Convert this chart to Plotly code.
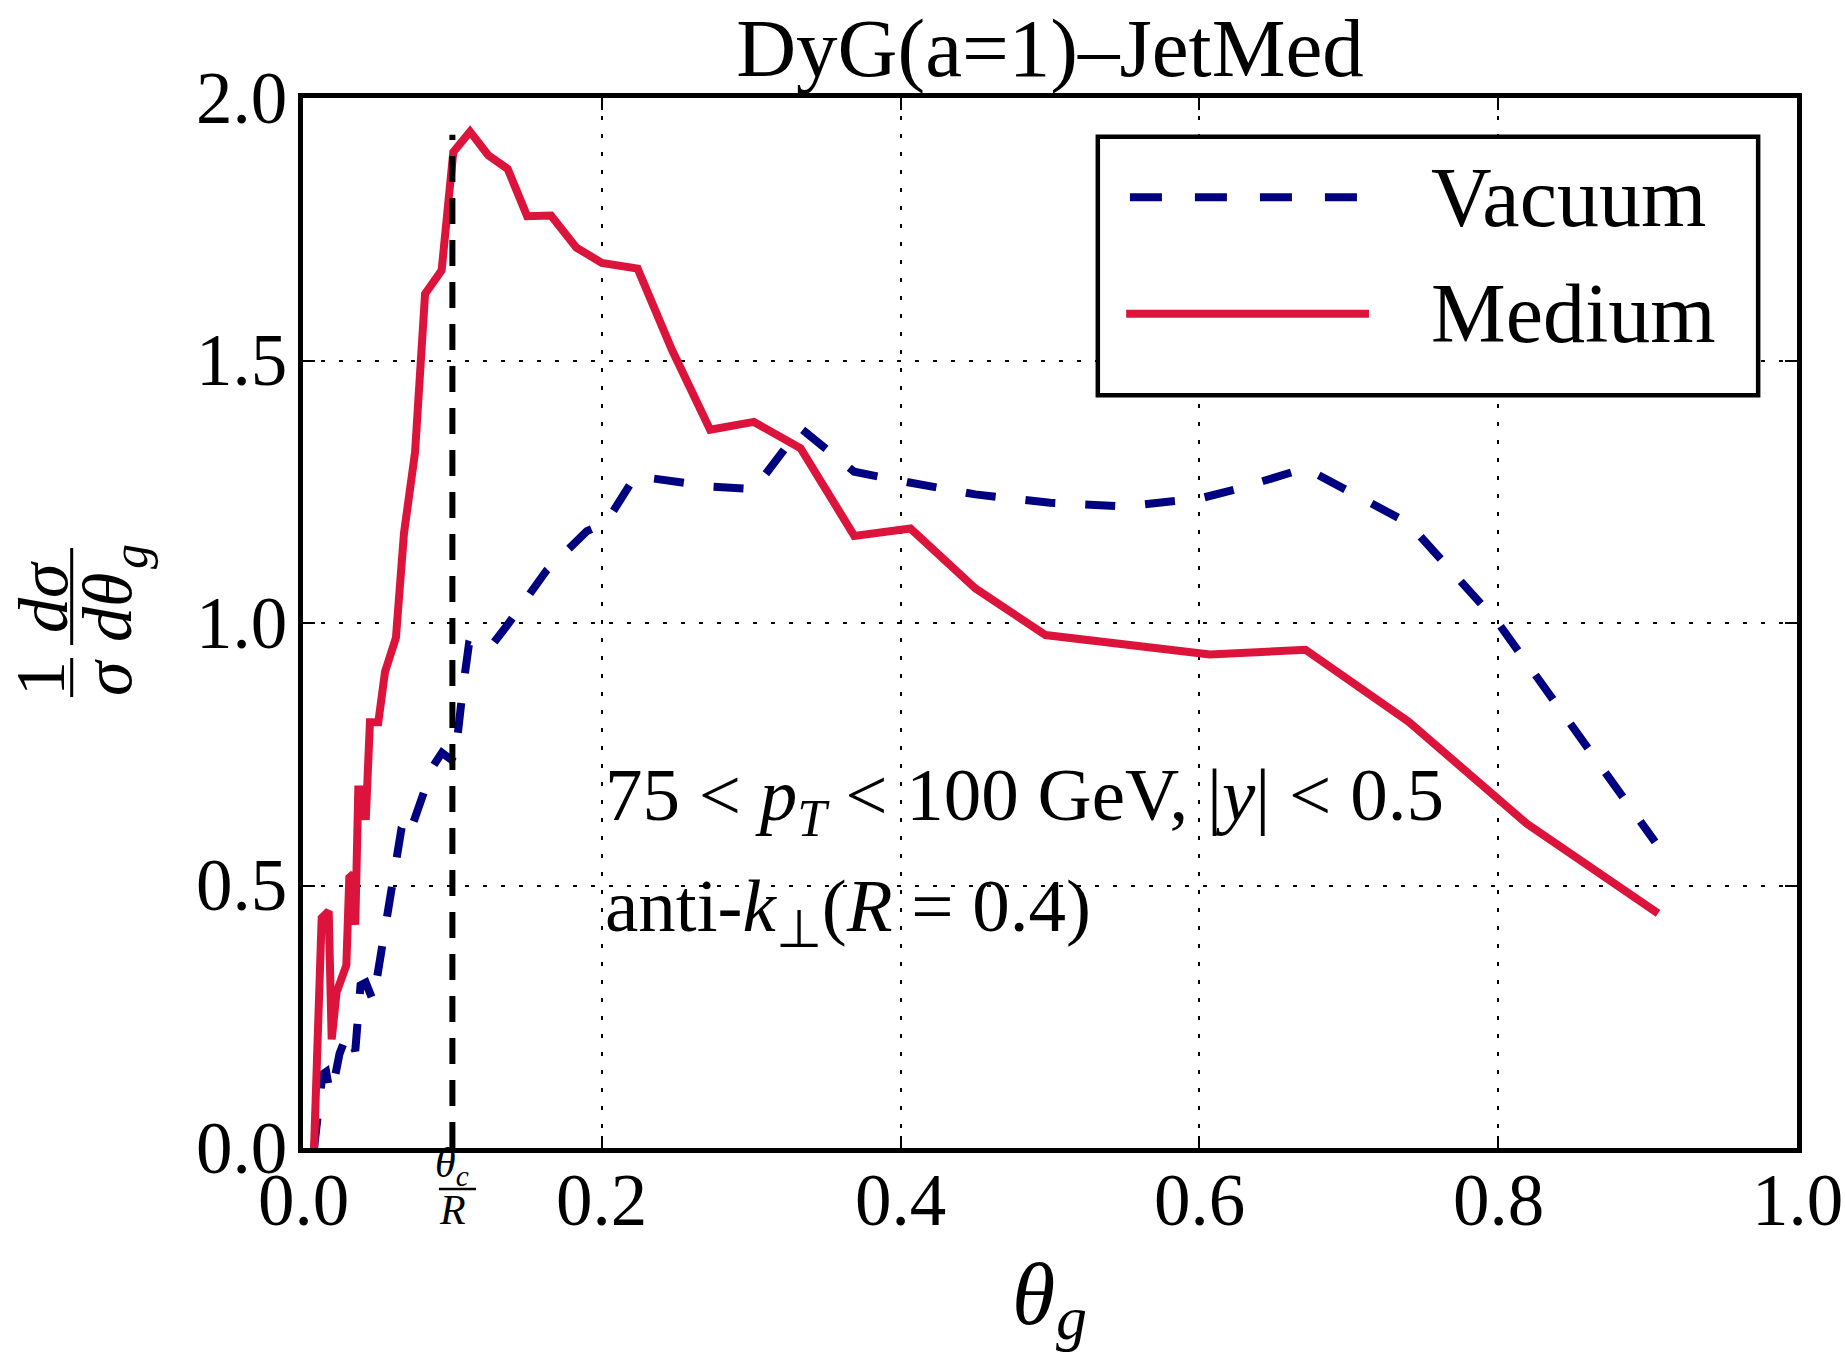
import plotly.graph_objects as go

# ---------------- data ----------------
theta_medium = [0.0074, 0.0085, 0.0125, 0.0172, 0.0192, 0.0225, 0.029, 0.031, 0.0337, 0.035,
                0.037, 0.040, 0.042, 0.0448, 0.0504, 0.0549, 0.0622, 0.0676, 0.075, 0.0817,
                0.0928, 0.1006, 0.1118, 0.124, 0.137, 0.150, 0.166, 0.183, 0.200, 0.224,
                0.247, 0.2725, 0.3018, 0.333, 0.369, 0.4066, 0.45, 0.497, 0.607, 0.671,
                0.740, 0.819, 0.907]
medium_vals = [0.0, 0.09, 0.438, 0.451, 0.207, 0.297, 0.348, 0.515, 0.522, 0.425,
               0.683, 0.683, 0.625, 0.811, 0.811, 0.907, 0.972, 1.171, 1.325, 1.627,
               1.672, 1.897, 1.936, 1.891, 1.865, 1.775, 1.776, 1.715, 1.686, 1.675,
               1.52, 1.368, 1.383, 1.333, 1.166, 1.180, 1.066, 0.977, 0.940, 0.949,
               0.812, 0.618, 0.447]

theta_vacuum = [0.0074, 0.011, 0.013, 0.0155, 0.018, 0.021, 0.0245, 0.030, 0.035, 0.0385,
                0.042, 0.047, 0.058, 0.066, 0.069, 0.072, 0.080, 0.087, 0.093, 0.1015,
                0.107, 0.111, 0.123, 0.137, 0.163, 0.19, 0.2025, 0.2225, 0.273, 0.302,
                0.333, 0.369, 0.405, 0.45, 0.50, 0.549, 0.60, 0.625, 0.671, 0.740,
                0.80, 0.85, 0.905]
vacuum_vals = [0.0, 0.09, 0.14, 0.145, 0.105, 0.13, 0.18, 0.22, 0.185, 0.31,
               0.315, 0.28, 0.47, 0.61, 0.625, 0.605, 0.67, 0.727, 0.753, 0.735,
               0.875, 0.958, 0.945, 0.997, 1.100, 1.175, 1.19, 1.28, 1.26, 1.255,
               1.371, 1.288, 1.268, 1.245, 1.229, 1.222, 1.237, 1.255, 1.295, 1.19,
               1.0, 0.80, 0.583]

thetac_x = [0.1, 0.1]
thetac_y = [0.0, 1.93]

x_ticks = [0.0, 0.2, 0.4, 0.6, 0.8, 1.0]
x_ticklabels = ["0.0", "0.2", "0.4", "0.6", "0.8", "1.0"]
y_ticks = [0.0, 0.5, 1.0, 1.5, 2.0]
y_ticklabels = ["0.0", "0.5", "1.0", "1.5", "2.0"]

series_names = ["Vacuum", "Medium"]
title_text = "DyG(a=1)\u2013JetMed"

# ---------------- style / geometry ----------------
FONT = "Liberation Serif"
NAVY = "#000080"
CRIMSON = "#DC143C"
W, H = 1845, 1355
PX0, PX1, PY0, PY1 = 303, 1797, 98, 1148   # plot area in pixels
L, R, T, B = PX0, W - PX1, PY0, H - PY1

def px2paper(X, Y):
    return (X - PX0) / (PX1 - PX0), (PY1 - Y) / (PY1 - PY0)

fig = go.Figure()
fig.add_trace(go.Scatter(x=theta_vacuum, y=vacuum_vals, mode="lines", name=series_names[0],
                         line=dict(color=NAVY, width=8, dash="30px,30px"), showlegend=False))
fig.add_trace(go.Scatter(x=theta_medium, y=medium_vals, mode="lines", name=series_names[1],
                         line=dict(color=CRIMSON, width=8), showlegend=False))
fig.add_trace(go.Scatter(x=thetac_x, y=thetac_y, mode="lines",
                         line=dict(color="black", width=6, dash="26px,16px"), showlegend=False))

axis_common = dict(showline=True, linewidth=4.5, linecolor="black", mirror="ticks",
                   ticks="inside", ticklen=12, tickwidth=2, tickcolor="black",
                   showgrid=True, gridcolor="black", gridwidth=2.2, griddash="4px,14px",
                   zeroline=False, showticklabels=False)

fig.update_xaxes(range=[0, 1], tickvals=x_ticks, **axis_common)
fig.update_yaxes(range=[0, 2], tickvals=y_ticks, **axis_common)

shapes = []
annotations = []
TICKFONT = dict(family=FONT, size=73, color="black")

# tick labels
_, ty = px2paper(0, 1200)
for v, lab in zip(x_ticks, x_ticklabels):
    annotations.append(dict(xref="x", yref="paper", x=v, y=ty, text=lab, showarrow=False,
                            xanchor="center", yanchor="middle", font=TICKFONT))
tx, _ = px2paper(289, 0)
for v, lab in zip(y_ticks, y_ticklabels):
    annotations.append(dict(xref="paper", yref="y", x=tx, y=v, text=lab, showarrow=False,
                            xanchor="right", yanchor="middle", font=TICKFONT))

# legend box (data coords)
shapes.append(dict(type="rect", xref="x", yref="y", x0=0.532, x1=0.974, y0=1.434, y1=1.926,
                   line=dict(color="black", width=4.5), fillcolor="white", layer="above"))
shapes.append(dict(type="line", xref="x", yref="y", x0=0.5535, x1=0.7068, y0=1.811, y1=1.811,
                   line=dict(color=NAVY, width=8, dash="32px,33px"), layer="above"))
shapes.append(dict(type="line", xref="x", yref="y", x0=0.551, x1=0.7135, y0=1.589, y1=1.589,
                   line=dict(color=CRIMSON, width=8), layer="above"))
annotations.append(dict(xref="x", yref="y", x=0.7537, y=1.811, text=series_names[0],
                        showarrow=False, xanchor="left", yanchor="middle",
                        font=dict(family=FONT, size=84, color="black")))
annotations.append(dict(xref="x", yref="y", x=0.7537, y=1.589, text=series_names[1],
                        showarrow=False, xanchor="left", yanchor="middle",
                        font=dict(family=FONT, size=84, color="black")))

# in-plot text
annotations.append(dict(xref="x", yref="y", x=0.2008, y=0.663,
                        text="75 &lt; <i>p</i><sub><i>T</i></sub> &lt; 100 GeV, |<i>y</i>| &lt; 0.5",
                        showarrow=False, xanchor="left", yanchor="middle",
                        font=dict(family=FONT, size=75, color="black")))
annotations.append(dict(xref="x", yref="y", x=0.2008, y=0.451,
                        text="anti-<i>k</i><sub>\u22a5</sub>(<i>R</i> = 0.4)",
                        showarrow=False, xanchor="left", yanchor="middle",
                        font=dict(family=FONT, size=75, color="black")))

# theta_c / R tick label
_, py = px2paper(0, 1166)
annotations.append(dict(xref="x", yref="paper", x=0.1, y=py, text="<i>θ</i><sub><i>c</i></sub>",
                        showarrow=False, xanchor="center", yanchor="middle",
                        font=dict(family=FONT, size=42, color="black")))
_, py = px2paper(0, 1210)
annotations.append(dict(xref="x", yref="paper", x=0.1, y=py, text="<i>R</i>",
                        showarrow=False, xanchor="center", yanchor="middle",
                        font=dict(family=FONT, size=42, color="black")))
_, py = px2paper(0, 1189)
shapes.append(dict(type="line", xref="x", yref="paper", x0=0.091, x1=0.1158, y0=py, y1=py,
                   line=dict(color="black", width=2.5)))

# x-axis title: theta_g
px_, py = px2paper(1033, 1294)
annotations.append(dict(xref="paper", yref="paper", x=px_, y=py, text="<i>θ</i>",
                        showarrow=False, xanchor="center", yanchor="middle",
                        font=dict(family=FONT, size=88, color="black")))
px_, py = px2paper(1071, 1318)
annotations.append(dict(xref="paper", yref="paper", x=px_, y=py, text="<i>g</i>",
                        showarrow=False, xanchor="center", yanchor="middle",
                        font=dict(family=FONT, size=62, color="black")))

# y-axis label (rotated fraction)
def rot_text(X, Y, txt, size=70):
    px_, py = px2paper(X, Y)
    annotations.append(dict(xref="paper", yref="paper", x=px_, y=py, text=txt, showarrow=False,
                            textangle=-90, xanchor="center", yanchor="middle",
                            font=dict(family=FONT, size=size, color="black")))

rot_text(40, 679, "1")
rot_text(107, 678, "<i>σ</i>")
rot_text(43, 597, "<i>dσ</i>")
rot_text(107, 608, "<i>dθ</i>")
rot_text(130, 557, "<i>g</i>", size=50)
for (y0, y1) in [(658, 697), (548, 645)]:
    px_, pa = px2paper(71.7, y0)
    _, pb = px2paper(71.7, y1)
    shapes.append(dict(type="line", xref="paper", yref="paper", x0=px_, x1=px_, y0=pa, y1=pb,
                       line=dict(color="black", width=3)))

fig.update_layout(
    width=W, height=H,
    margin=dict(l=L, r=R, t=T, b=B),
    paper_bgcolor="white", plot_bgcolor="white",
    title=dict(text=title_text, x=((PX0 + PX1) / 2) / W, xanchor="center",
               y=1 - 47 / H, yanchor="middle", yref="container",
               font=dict(family=FONT, size=83, color="black")),
    shapes=shapes, annotations=annotations, showlegend=False,
)

fig.write_html("out.html", config={"displayModeBar": False},
               post_script="document.body.style.margin='0';document.body.style.overflow='hidden';")
